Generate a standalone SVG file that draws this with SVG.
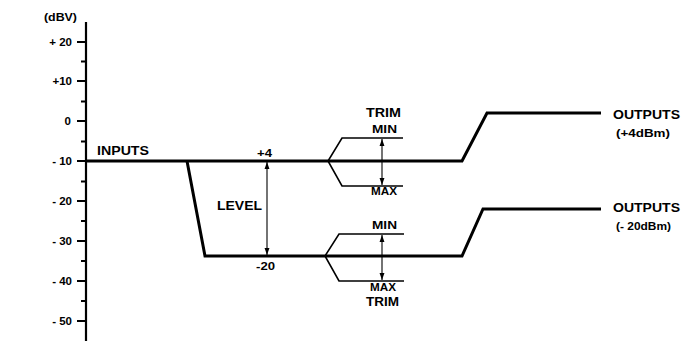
<svg xmlns="http://www.w3.org/2000/svg" width="693" height="350" viewBox="0 0 693 350">
<style>
text{font-family:"Liberation Sans",Arial,sans-serif;font-weight:bold;fill:#000}
.lbl{font-size:12.5px}
.sm{font-size:10.5px}
.num{font-size:11.5px;text-anchor:end}
.sig{fill:none;stroke:#000;stroke-width:3;stroke-linejoin:miter}
.trim{fill:none;stroke:#000;stroke-width:1.6}
.arr{stroke:#000;stroke-width:1.1;marker-start:url(#ah);marker-end:url(#ah)}
.tick{stroke:#000;stroke-width:1.8}
</style>
<defs>
<marker id="ah" viewBox="0 0 10 10" refX="10" refY="5" markerWidth="7" markerHeight="7" markerUnits="userSpaceOnUse" orient="auto-start-reverse">
<path d="M0,1.5 L10,5 L0,8.5 Z" fill="#000"/>
</marker>
</defs>
<rect width="693" height="350" fill="#fff"/>
<g id="axis">
<line x1="86" y1="22" x2="86" y2="341" stroke="#000" stroke-width="2.2"/>
<path class="tick" d="M77,42H86M77,81H86M77,121H86M77,161H86M77,201H86M77,241H86M77,281H86M77,321H86"/>
<path class="tick" d="M81,61.5H86M81,101.5H86M81,141.5H86M81,181.5H86M81,221H86M81,261H86M81,301H86"/>
<text x="44" y="21" class="sm" textLength="33" lengthAdjust="spacingAndGlyphs">(dBV)</text>
<text x="72" y="46" class="num">+ 20</text>
<text x="72" y="85" class="num">+10</text>
<text x="71" y="125" class="num">0</text>
<text x="72" y="165" class="num">- 10</text>
<text x="72" y="205" class="num">- 20</text>
<text x="72" y="245" class="num">- 30</text>
<text x="72" y="285" class="num">- 40</text>
<text x="72" y="325" class="num">- 50</text>
</g>
<g id="connectors">
<path class="sig" d="M86,161 L462,161 L487,113 L601,113"/>
<path class="sig" d="M187,161 L205,256 L462,256 L483,209 L601,209"/>
<path class="trim" d="M403,138 L342,138 L328,161 L342,186 L403,186"/>
<path class="trim" d="M404,234 L339,234 L325,256 L339,281 L404,281"/>
<line class="arr" x1="267" y1="162" x2="267" y2="255"/>
<line class="arr" x1="382" y1="139" x2="382" y2="185"/>
<line class="arr" x1="382" y1="235" x2="382" y2="280"/>
</g>
<g id="inputs"><text x="97" y="155" class="lbl" textLength="52" lengthAdjust="spacingAndGlyphs">INPUTS</text></g>
<g id="level">
<text x="217" y="209.5" class="lbl" textLength="45" lengthAdjust="spacingAndGlyphs">LEVEL</text>
<text x="257" y="157" class="num" style="text-anchor:start" textLength="15" lengthAdjust="spacingAndGlyphs">+4</text>
<text x="256" y="270" class="num" style="text-anchor:start" textLength="19" lengthAdjust="spacingAndGlyphs">-20</text>
</g>
<g id="trim-upper">
<text x="366" y="116.5" class="lbl" textLength="35" lengthAdjust="spacingAndGlyphs">TRIM</text>
<text x="372" y="133" class="sm" textLength="25" lengthAdjust="spacingAndGlyphs">MIN</text>
<text x="371" y="195" class="sm" textLength="26" lengthAdjust="spacingAndGlyphs">MAX</text>
</g>
<g id="trim-lower">
<text x="372" y="228.5" class="sm" textLength="25" lengthAdjust="spacingAndGlyphs">MIN</text>
<text x="370" y="291" class="sm" textLength="26" lengthAdjust="spacingAndGlyphs">MAX</text>
<text x="366" y="306" class="lbl" textLength="33" lengthAdjust="spacingAndGlyphs">TRIM</text>
</g>
<g id="outputs-4">
<text x="613" y="118.5" class="lbl" textLength="67" lengthAdjust="spacingAndGlyphs">OUTPUTS</text>
<text x="616" y="137" class="sm" textLength="54" lengthAdjust="spacingAndGlyphs">(+4dBm)</text>
</g>
<g id="outputs-20">
<text x="613" y="211.5" class="lbl" textLength="67" lengthAdjust="spacingAndGlyphs">OUTPUTS</text>
<text x="616" y="230" class="sm" textLength="55" lengthAdjust="spacingAndGlyphs">(- 20dBm)</text>
</g>
</svg>
